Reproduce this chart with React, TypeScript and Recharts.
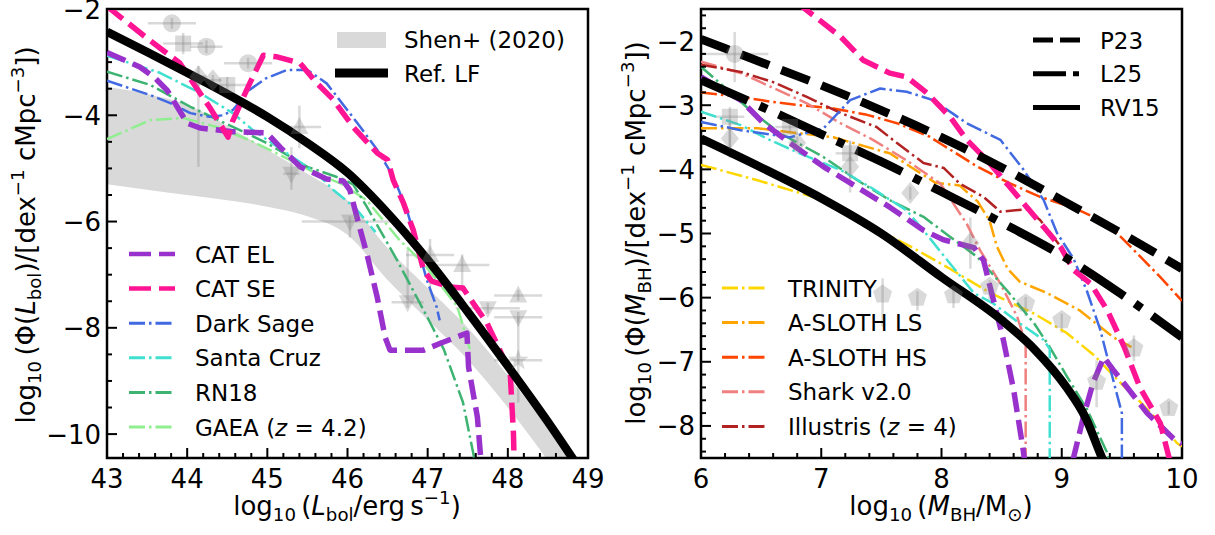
import React from "react";
import { ComposedChart, Line, Area, Scatter, ErrorBar, XAxis, YAxis, ReferenceArea } from "recharts";

type P = [number, number];
type Obs = [number, number, number, number, number]; // x, y, xerr, yerr below, yerr above

const FONT = "DejaVu Sans";

// ---------- left panel: bolometric LF ----------
const shenL = [43, 43.5, 44, 44.5, 45, 45.5, 46, 46.5, 47, 47.5, 48, 48.5, 49];
const shenHi = [-3.47, -3.6, -3.8, -4.2, -4.65, -5.1, -5.6, -6.5, -7.25, -8.0, -8.9, -9.9, -11];
const shenLo = [-5.3, -5.4, -5.5, -5.6, -5.72, -5.9, -6.25, -7.1, -7.85, -8.6, -9.5, -10.5, -11.6];

const refLF: P[] = [[43, -2.43], [43.5, -2.81], [44, -3.2], [44.5, -3.6], [45, -4.03], [45.5, -4.52], [46, -5.08], [46.5, -5.84], [47, -6.72], [47.5, -7.7], [48, -8.72], [48.5, -9.77], [48.85, -10.55]];
const catElL: P[] = [[43, -2.82], [43.2, -2.95], [43.41, -3.09], [43.6, -3.3], [43.75, -3.53], [43.9, -3.9], [44, -4.15], [44.16, -4.24], [44.57, -4.31], [44.99, -4.33], [45.16, -4.6], [45.41, -4.97], [45.74, -5.2], [45.95, -5.24], [46.03, -5.41], [46.16, -6.16], [46.24, -6.6], [46.37, -7.42], [46.47, -8.18], [46.53, -8.42], [46.95, -8.42], [47.16, -8.29], [47.49, -8.1], [47.51, -8.74], [47.62, -9.68], [47.67, -10.6]];
const catSeL: P[] = [[43, -1.95], [43.5, -2.55], [43.91, -3.02], [44.28, -3.85], [44.51, -4.41], [44.57, -4.1], [44.78, -3.4], [44.95, -2.87], [45.12, -2.9], [45.41, -3.02], [45.62, -3.4], [45.82, -3.7], [46.07, -4.22], [46.37, -4.71], [46.5, -4.84], [46.57, -5.22], [46.7, -5.66], [46.82, -6.16], [46.95, -6.92], [47.05, -7.12], [47.28, -7.23], [47.44, -7.25], [47.57, -7.54], [47.74, -7.91], [47.9, -8.42], [48.03, -8.86], [48.07, -9.99], [48.08, -10.6]];
const darkSageL: P[] = [[43, -3.35], [43.54, -3.62], [43.79, -3.77], [44.04, -3.96], [44.28, -4.03], [44.45, -4.0], [44.57, -3.9], [44.78, -3.52], [44.99, -3.3], [45.24, -3.15], [45.5, -3.15], [45.74, -3.4], [45.9, -3.71], [46.16, -4.22], [46.37, -4.65], [46.57, -5.15], [46.74, -5.78], [46.86, -6.4], [46.99, -7.1], [47.11, -7.6], [47.15, -7.86]];
const santaCruzL: P[] = [[43, -2.88], [43.66, -3.2], [44.16, -3.58], [44.57, -3.96], [44.82, -4.28], [45.24, -4.71], [45.62, -5.1], [45.82, -5.4], [46.1, -5.75], [46.35, -6.2]];
const rn18L: P[] = [[43, -3.18], [43.54, -3.43], [44.04, -3.84], [44.57, -4.22], [44.99, -4.52], [45.5, -4.97], [45.94, -5.2], [46.07, -5.3], [46.24, -5.72], [46.62, -6.73], [46.82, -7.3], [47.03, -7.9], [47.2, -8.4], [47.32, -8.9], [47.44, -9.4], [47.57, -10.37], [47.6, -10.6]];
const gaeaL: P[] = [[43, -4.45], [43.54, -4.09], [43.95, -4.05], [44.37, -4.22], [44.78, -4.47], [45.2, -4.78], [45.62, -5.1], [45.94, -5.3], [46.24, -5.6], [46.65, -6.35], [46.95, -6.79], [47.37, -7.6], [47.53, -8.42]];

const lfCircles: Obs[] = [[43.81, -2.27, 0.3, 0.1, 0.1], [44.24, -2.71, 0.2, 0.12, 0.12], [44.76, -3.02, 0.3, 0.1, 0.1]];
const lfSquares: Obs[] = [[43.95, -2.65, 0.25, 0.2, 0.2], [44.5, -3.43, 0.25, 0.15, 0.15]];
const lfDiamonds: Obs[] = [[44.14, -3.27, 0.1, 1.7, 0.2], [44.32, -3.34, 0.1, 0.1, 0.1]];
const lfTriUp: Obs[] = [[45.4, -4.22, 0.27, 0.4, 0.4], [47.03, -6.63, 0.3, 0.6, 0.3], [47.43, -6.82, 0.34, 0.5, 0.2], [48.13, -7.39, 0.3, 0.1, 0.1]];
const lfTriDown: Obs[] = [[45.3, -5.1, 0.1, 0.3, 0.5], [46.03, -6.0, 0.6, 0.3, 0.1], [46.75, -7.52, 0.2, 0.1, 1.0], [47.75, -7.63, 0.4, 0.1, 0.1], [48.13, -7.8, 0.3, 0.1, 0.1]];
const lfStars: Obs[] = [[48.13, -8.61, 0.3, 0.8, 0.8]];

// ---------- right panel: BH mass function ----------
const p23: P[] = [[6, -1.97], [6.5, -2.33], [7, -2.69], [7.5, -3.08], [8, -3.5], [8.5, -3.97], [9, -4.48], [9.5, -5.0], [10, -5.55]];
const l25: P[] = [[6, -2.61], [6.5, -3.02], [7, -3.45], [7.5, -3.88], [8, -4.35], [8.5, -4.83], [9, -5.34], [9.5, -5.95], [10, -6.62]];
const rv15: P[] = [[6, -3.52], [6.5, -3.97], [7, -4.45], [7.5, -5.0], [8, -5.68], [8.5, -6.35], [8.77, -6.8], [9.04, -7.4], [9.2, -7.88], [9.32, -8.43], [9.38, -8.7]];
const catElM: P[] = [[6, -2.56], [6.33, -2.92], [6.52, -3.28], [6.74, -3.59], [7.02, -3.96], [7.3, -4.28], [7.57, -4.59], [7.85, -4.95], [8.02, -5.1], [8.27, -5.22], [8.35, -5.42], [8.4, -5.8], [8.51, -6.62], [8.6, -7.44], [8.68, -8.38], [8.72, -9.0], [9.05, -9.0], [9.1, -8.48], [9.18, -7.86], [9.26, -7.33], [9.35, -6.93], [9.43, -7.13], [9.54, -7.39], [9.71, -7.8], [9.93, -8.2], [10, -8.28]];
const catSeM: P[] = [[6.8, -1.4], [6.88, -1.52], [7.16, -1.93], [7.35, -2.3], [7.57, -2.5], [7.71, -2.56], [7.88, -2.81], [8.07, -3.18], [8.21, -3.54], [8.38, -3.86], [8.57, -4.28], [8.71, -4.59], [8.85, -4.9], [8.99, -5.21], [9.1, -5.57], [9.24, -5.78], [9.38, -6.2], [9.52, -6.77], [9.65, -7.4], [9.82, -7.96], [9.87, -8.33], [9.92, -8.7]];
const darkSageM: P[] = [[6, -3.26], [6.33, -3.39], [6.74, -3.5], [7.02, -3.36], [7.24, -2.92], [7.49, -2.74], [7.71, -2.79], [7.93, -2.92], [8.21, -3.28], [8.49, -3.54], [8.68, -4.0], [8.85, -4.48], [8.96, -4.99], [9.1, -5.4], [9.21, -5.9], [9.32, -6.5], [9.43, -7.3], [9.5, -7.8], [9.5, -8.7]];
const santaCruzM: P[] = [[6, -3.1], [6.33, -3.31], [6.57, -3.54], [6.82, -3.75], [7.16, -4.01], [7.41, -4.28], [7.71, -4.64], [7.85, -4.95], [8.05, -5.42], [8.27, -5.93], [8.43, -6.09], [8.65, -6.4], [8.85, -6.66], [8.9, -6.8], [8.9, -8.7]];
const rn18M: P[] = [[6, -2.4], [6.16, -2.66], [6.41, -3.08], [6.66, -3.44], [7.02, -3.81], [7.3, -4.17], [7.57, -4.48], [7.85, -4.74], [8.07, -5.05], [8.3, -5.37], [8.55, -5.9], [8.77, -6.4], [8.9, -6.77], [9.04, -7.22], [9.21, -7.74], [9.38, -8.43], [9.42, -8.7]];
const trinity: P[] = [[6, -3.93], [6.47, -4.17], [7.02, -4.48], [7.43, -4.9], [7.76, -5.22], [8.07, -5.55], [8.4, -5.92], [8.77, -6.25], [9.04, -6.55], [9.27, -6.9], [9.5, -7.35], [9.65, -7.62], [9.82, -7.96], [9.96, -8.27], [10, -8.32]];
const aslothLs: P[] = [[6, -3.36], [6.47, -3.36], [6.74, -3.42], [7.1, -3.5], [7.38, -3.65], [7.57, -3.75], [7.8, -4.03], [7.95, -4.21], [8.15, -4.25], [8.3, -4.5], [8.4, -4.8], [8.46, -5.2], [8.55, -5.55], [8.65, -5.75], [8.88, -5.93], [9.15, -6.2], [9.43, -6.62], [9.58, -6.77]];
const aslothHs: P[] = [[6, -2.8], [6.33, -2.87], [6.6, -2.95], [6.82, -3.0], [7.1, -3.05], [7.38, -3.15], [7.63, -3.28], [7.9, -3.49], [8.01, -3.62], [8.3, -3.96], [8.57, -4.22], [8.82, -4.43], [9.1, -4.6], [9.38, -4.84], [9.6, -5.26], [9.82, -5.68], [10, -6.05]];
const shark: P[] = [[6, -2.32], [6.33, -2.5], [6.6, -2.73], [6.88, -2.97], [7.16, -3.28], [7.43, -3.54], [7.71, -3.86], [7.99, -4.22], [8.21, -4.85], [8.32, -5.26], [8.49, -5.78], [8.63, -6.3], [8.7, -6.71], [8.7, -8.7]];
const illustris: P[] = [[6, -2.37], [6.33, -2.48], [6.6, -2.64], [6.88, -2.87], [7.16, -3.12], [7.46, -3.34], [7.63, -3.59], [7.85, -3.9], [8.02, -3.98], [8.15, -4.22], [8.35, -4.43], [8.49, -4.66], [8.71, -4.62], [8.82, -4.79], [8.99, -5.2]];

const mfCircles: Obs[] = [[6.28, -2.2, 0.28, 0.44, 0.34]];
const mfSquares: Obs[] = [[6.24, -3.18, 0.12, 0.5, 0.15], [6.74, -3.34, 0.12, 0.1, 0.1], [7.24, -3.75, 0.12, 0.4, 0.2]];
const mfDiamonds: Obs[] = [[6.24, -3.52, 0, 0.3, 0.3], [6.8, -3.59, 0, 0.1, 0.1], [7.24, -3.96, 0, 0.4, 0.4], [7.74, -4.37, 0, 0.1, 0.1], [8.24, -5.15, 0, 0.4, 0.4]];
const mfPentagons: Obs[] = [[7.51, -5.95, 0, 0.5, 0.25], [7.8, -6.0, 0, 0.2, 0.1], [8.1, -5.96, 0, 0.2, 0.1], [8.4, -5.83, 0, 0.2, 0.1], [8.7, -6.09, 0, 0.2, 0.1], [9.0, -6.35, 0, 0.2, 0.1], [9.29, -7.31, 0, 0.4, 0.33], [9.6, -6.79, 0, 0.2, 0.2], [9.89, -7.72, 0, 0.1, 0.1]];

// tick labels
const lfMajorX = [43, 44, 45, 46, 47, 48, 49];
const lfMajorY = [-10, -8, -6, -4, -2];
const mfMajorX = [6, 7, 8, 9, 10];
const mfMajorY = [-8, -7, -6, -5, -4, -3, -2];

// line styles
const DASH = "20 8";
const DASHDOT = "16 4 2.5 4";
const THIN = 2.5;

type Style = { name: React.ReactNode; color: string; dash?: string; width: number; smooth?: boolean; legendWidth?: number; legendDash?: string };

const sCatEl: Style = { name: "CAT EL", color: "#9932CC", dash: DASH, width: 5.5, legendWidth: 4.5, legendDash: "22 8" };
const sCatSe: Style = { name: "CAT SE", color: "#FF1493", dash: DASH, width: 5.5, legendWidth: 4.5, legendDash: "22 8" };
const sDarkSage: Style = { name: "Dark Sage", color: "#4169E1", dash: DASHDOT, width: THIN, legendWidth: 3 };
const sSantaCruz: Style = { name: "Santa Cruz", color: "#40E0D0", dash: DASHDOT, width: THIN, legendWidth: 3 };
const sRn18: Style = { name: "RN18", color: "#3CB371", dash: DASHDOT, width: THIN, legendWidth: 3 };
const sGaea: Style = { name: <>GAEA (<tspan fontStyle="italic">z</tspan> = 4.2)</>, color: "#90EE90", dash: DASHDOT, width: THIN, legendWidth: 3 };
const sTrinity: Style = { name: "TRINITY", color: "#FFD700", dash: DASHDOT, width: THIN, legendWidth: 3 };
const sLs: Style = { name: "A-SLOTH LS", color: "#FFA500", dash: DASHDOT, width: THIN, legendWidth: 3 };
const sHs: Style = { name: "A-SLOTH HS", color: "#FF4500", dash: DASHDOT, width: THIN, legendWidth: 3 };
const sShark: Style = { name: "Shark v2.0", color: "#F08080", dash: DASHDOT, width: THIN, legendWidth: 3 };
const sIllustris: Style = { name: <>Illustris (<tspan fontStyle="italic">z</tspan> = 4)</>, color: "#B22222", dash: DASHDOT, width: THIN, legendWidth: 3 };
const sP23: Style = { name: "P23", color: "#000", dash: "30 13", width: 8.5, smooth: true, legendWidth: 5, legendDash: "20 7" };
const sL25: Style = { name: "L25", color: "#000", dash: "51 13 8 13", width: 8.5, smooth: true, legendWidth: 5, legendDash: "33 7 6 7" };
const sRv15: Style = { name: "RV15", color: "#000", width: 8.5, smooth: true, legendWidth: 5 };
const sRef: Style = { name: "Ref. LF", color: "#000", width: 8.5, smooth: true, legendWidth: 9 };

const rows = (pts: P[]) => pts.map(([x, y]) => ({ x, y }));
const obsRows = (pts: Obs[]) => pts.map(([x, y, ex, lo, hi]) => ({ x, y, ex, ey: [lo, hi] }));
const bandRows = shenL.map((x, i) => ({ x, band: [shenLo[i], shenHi[i]] }));

const withMinor = (lo: number, hi: number, step: number) => {
  const n = Math.round((hi - lo) / step);
  return Array.from({ length: n + 1 }, (_, i) => Math.round((lo + i * step) * 1000) / 1000);
};
const fmt = (v: number) => (v < 0 ? "\u2212" + Math.abs(v) : String(v));
const isMajor = (v: number, majors: number[]) => majors.some((m) => Math.abs(m - v) < 1e-6);

const makeXTick = (majors: number[]) => (props: any) => {
  const { x, y, payload } = props;
  const major = isMajor(payload.value, majors);
  return (
    <g>
      <line x1={x} x2={x} y1={y} y2={y - (major ? 10 : 5)} stroke="#000" strokeWidth={2} />
      {major && (
        <text x={x} y={y + 30} textAnchor="middle" fontFamily={FONT} fontSize={26} fill="#000">
          {fmt(payload.value)}
        </text>
      )}
    </g>
  );
};
const makeYTick = (majors: number[]) => (props: any) => {
  const { x, y, payload } = props;
  const major = isMajor(payload.value, majors);
  return (
    <g>
      <line x1={x} x2={x + (major ? 10 : 5)} y1={y} y2={y} stroke="#000" strokeWidth={2} />
      {major && (
        <text x={x - 6} y={y + 9.5} textAnchor="end" fontFamily={FONT} fontSize={26} fill="#000">
          {fmt(payload.value)}
        </text>
      )}
    </g>
  );
};

const GREY = "rgba(128,128,128,0.3)";
const markerShape = (kind: string) => (p: any) => {
  const { cx, cy } = p;
  if (cx == null || cy == null) return <g />;
  const poly = (pts: number[][]) => <polygon points={pts.map(([a, b]) => `${cx + a},${cy + b}`).join(" ")} fill={GREY} />;
  switch (kind) {
    case "circle":
      return <circle cx={cx} cy={cy} r={9} fill={GREY} />;
    case "square":
      return <rect x={cx - 8} y={cy - 8} width={16} height={16} fill={GREY} />;
    case "diamond":
      return poly([[0, -11], [9, 0], [0, 11], [-9, 0]]);
    case "triUp":
      return poly([[0, -10], [9, 7], [-9, 7]]);
    case "triDown":
      return poly([[0, 10], [9, -7], [-9, -7]]);
    case "star": {
      const pts: number[][] = [];
      for (let i = 0; i < 10; i++) {
        const r = i % 2 ? 4.5 : 11;
        const a = -Math.PI / 2 + (i * Math.PI) / 5;
        pts.push([r * Math.cos(a), r * Math.sin(a)]);
      }
      return poly(pts);
    }
    default: {
      const pts: number[][] = [];
      for (let i = 0; i < 5; i++) {
        const a = -Math.PI / 2 + (i * 2 * Math.PI) / 5;
        pts.push([10 * Math.cos(a), 10 * Math.sin(a)]);
      }
      return poly(pts);
    }
  }
};

const obsSeries = (data: Obs[], kind: string, key: string) => (
  <Scatter key={key} data={obsRows(data)} dataKey="y" shape={markerShape(kind)} isAnimationActive={false}>
    <ErrorBar dataKey="ex" direction="x" width={0} stroke={GREY} strokeWidth={2.5} />
    <ErrorBar dataKey="ey" direction="y" width={0} stroke={GREY} strokeWidth={2.5} />
  </Scatter>
);

const curve = (data: P[], s: Style, key: string) => (
  <Line
    key={key}
    data={rows(data)}
    dataKey="y"
    type={s.smooth ? "monotone" : "linear"}
    stroke={s.color}
    strokeWidth={s.width}
    strokeDasharray={s.dash}
    strokeLinejoin="round"
    dot={false}
    activeDot={false}
    isAnimationActive={false}
  />
);

// mathtext-like label built from segments
type Seg = { t: string; it?: boolean; sub?: boolean; sup?: boolean };
const mathSpans = (segs: Seg[], size: number) => {
  let cur = 0;
  return segs.map((s, i) => {
    const target = s.sub ? 0.24 * size : s.sup ? -0.42 * size : 0;
    const dy = target - cur;
    cur = target;
    return (
      <tspan key={i} dy={dy} fontStyle={s.it ? "italic" : "normal"} fontSize={s.sub || s.sup ? size * 0.7 : size}>
        {s.t}
      </tspan>
    );
  });
};

const yLabelLF: Seg[] = [{ t: "log" }, { t: "10", sub: true }, { t: "\u2009(\u03A6(" }, { t: "L", it: true }, { t: "bol", sub: true }, { t: ")/[dex" }, { t: "\u22121", sup: true }, { t: " cMpc" }, { t: "\u22123", sup: true }, { t: "])" }];
const xLabelLF: Seg[] = [{ t: "log" }, { t: "10", sub: true }, { t: "\u2009(" }, { t: "L", it: true }, { t: "bol", sub: true }, { t: "/erg\u2009s" }, { t: "\u22121", sup: true }, { t: ")" }];
const yLabelMF: Seg[] = [{ t: "log" }, { t: "10", sub: true }, { t: "\u2009(\u03A6(" }, { t: "M", it: true }, { t: "BH", sub: true }, { t: ")/[dex" }, { t: "\u22121", sup: true }, { t: " cMpc" }, { t: "\u22123", sup: true }, { t: "])" }];
const xLabelMF: Seg[] = [{ t: "log" }, { t: "10", sub: true }, { t: "\u2009(" }, { t: "M", it: true }, { t: "BH", sub: true }, { t: "/M" }, { t: "\u2299", sub: true }, { t: ")" }];

const LegendRows = ({ items, x, y0, step, lineLen, gap }: { items: Style[]; x: number; y0: number; step: number; lineLen: number; gap: number }) => (
  <g>
    {items.map((s, i) => {
      const y = y0 + i * step;
      return (
        <g key={i}>
          <line x1={x} x2={x + lineLen} y1={y} y2={y} stroke={s.color} strokeWidth={s.legendWidth ?? s.width} strokeDasharray={s.legendDash ?? s.dash} />
          <text x={x + lineLen + gap} y={y + 8.5} fontFamily={FONT} fontSize={23} fill="#000" style={{ whiteSpace: "pre" }}>
            {s.name}
          </text>
        </g>
      );
    })}
  </g>
);

const H = 535;
const LW = 615;
const LABEL = 26;

function LeftPanel() {
  return (
    <div style={{ position: "absolute", left: 0, top: 0, width: LW, height: H }}>
      <ComposedChart width={LW} height={H} data={bandRows} margin={{ top: 9, right: LW - 588, bottom: 0, left: 0 }}>
        <XAxis dataKey="x" type="number" domain={[43, 49]} allowDataOverflow ticks={withMinor(43, 49, 0.2)} interval={0} tick={makeXTick(lfMajorX)} tickLine={false} tickSize={0} tickMargin={0} height={77} axisLine={false} />
        <YAxis dataKey="y" type="number" domain={[-10.45, -2]} allowDataOverflow ticks={withMinor(-10, -2, 0.5)} interval={0} tick={makeYTick(lfMajorY)} tickLine={false} tickSize={0} tickMargin={0} width={107} axisLine={false} />
        <Area dataKey="band" type="monotone" stroke="none" fill="#D9D9D9" fillOpacity={1} isAnimationActive={false} />
        {obsSeries(lfCircles, "circle", "c")}
        {obsSeries(lfSquares, "square", "s")}
        {obsSeries(lfDiamonds, "diamond", "d")}
        {obsSeries(lfTriUp, "triUp", "tu")}
        {obsSeries(lfTriDown, "triDown", "td")}
        {obsSeries(lfStars, "star", "st")}
        {curve(gaeaL, sGaea, "gaea")}
        {curve(rn18L, sRn18, "rn18")}
        {curve(santaCruzL, sSantaCruz, "sc")}
        {curve(darkSageL, sDarkSage, "ds")}
        {curve(catElL, sCatEl, "el")}
        {curve(catSeL, sCatSe, "se")}
        {curve(refLF, sRef, "ref")}
        <ReferenceArea x1={43} x2={49} y1={-10.45} y2={-2} fill="none" stroke="#000" strokeWidth={2.5} ifOverflow="visible" />
      </ComposedChart>
      <svg width={LW} height={H} style={{ position: "absolute", left: 0, top: 0, pointerEvents: "none" }}>
        <rect x={337} y={32} width={49} height={16} fill="#D9D9D9" />
        <text x={404} y={48} fontFamily={FONT} fontSize={23}>Shen+ (2020)</text>
        <line x1={335} x2={388} y1={73} y2={73} stroke="#000" strokeWidth={9} />
        <text x={404} y={82} fontFamily={FONT} fontSize={23}>Ref. LF</text>
        <LegendRows items={[sCatEl, sCatSe, sDarkSage, sSantaCruz, sRn18, sGaea]} x={129} y0={254} step={34.6} lineLen={46} gap={20} />
        <text x={347} y={515} textAnchor="middle" fontFamily={FONT} fontSize={LABEL} style={{ whiteSpace: "pre" }}>{mathSpans(xLabelLF, LABEL)}</text>
        <text transform="translate(35,235) rotate(-90)" textAnchor="middle" fontFamily={FONT} fontSize={LABEL} style={{ whiteSpace: "pre" }}>{mathSpans(yLabelLF, LABEL)}</text>
      </svg>
    </div>
  );
}

function RightPanel() {
  return (
    <div style={{ position: "absolute", left: 600, top: 0, width: 615, height: H }}>
      <ComposedChart width={615} height={H} margin={{ top: 9, right: 33, bottom: 0, left: 0 }}>
        <XAxis dataKey="x" type="number" domain={[6, 10]} allowDataOverflow ticks={withMinor(6, 10, 0.2)} interval={0} tick={makeXTick(mfMajorX)} tickLine={false} tickSize={0} tickMargin={0} height={77} axisLine={false} />
        <YAxis dataKey="y" type="number" domain={[-8.5, -1.5]} allowDataOverflow ticks={withMinor(-8.4, -1.6, 0.2)} interval={0} tick={makeYTick(mfMajorY)} tickLine={false} tickSize={0} tickMargin={0} width={101} axisLine={false} />
        {obsSeries(mfCircles, "circle", "c")}
        {obsSeries(mfSquares, "square", "s")}
        {obsSeries(mfDiamonds, "diamond", "d")}
        {obsSeries(mfPentagons, "pentagon", "p")}
        {curve(trinity, sTrinity, "tr")}
        {curve(aslothLs, sLs, "ls")}
        {curve(aslothHs, sHs, "hs")}
        {curve(shark, sShark, "sh")}
        {curve(illustris, sIllustris, "il")}
        {curve(rn18M, sRn18, "rn")}
        {curve(santaCruzM, sSantaCruz, "sc")}
        {curve(darkSageM, sDarkSage, "ds")}
        {curve(catElM, sCatEl, "el")}
        {curve(catSeM, sCatSe, "se")}
        {curve(rv15, sRv15, "rv")}
        {curve(l25, sL25, "l25")}
        {curve(p23, sP23, "p23")}
        <ReferenceArea x1={6} x2={10} y1={-8.5} y2={-1.5} fill="none" stroke="#000" strokeWidth={2.5} ifOverflow="visible" />
      </ComposedChart>
      <svg width={615} height={H} style={{ position: "absolute", left: 0, top: 0, pointerEvents: "none" }}>
        <LegendRows items={[sP23, sL25, sRv15]} x={433} y0={40} step={33.8} lineLen={47} gap={20} />
        <LegendRows items={[sTrinity, sLs, sHs, sShark, sIllustris]} x={122} y0={288} step={34.6} lineLen={46} gap={20} />
        <text x={341} y={515} textAnchor="middle" fontFamily={FONT} fontSize={LABEL} style={{ whiteSpace: "pre" }}>{mathSpans(xLabelMF, LABEL)}</text>
        <text transform="translate(45,233) rotate(-90)" textAnchor="middle" fontFamily={FONT} fontSize={LABEL} style={{ whiteSpace: "pre" }}>{mathSpans(yLabelMF, LABEL)}</text>
      </svg>
    </div>
  );
}

export default function App() {
  return (
    <div style={{ position: "absolute", left: 0, top: 0, width: 1215, height: H, background: "#fff", overflow: "hidden" }}>
      <LeftPanel />
      <RightPanel />
    </div>
  );
}
